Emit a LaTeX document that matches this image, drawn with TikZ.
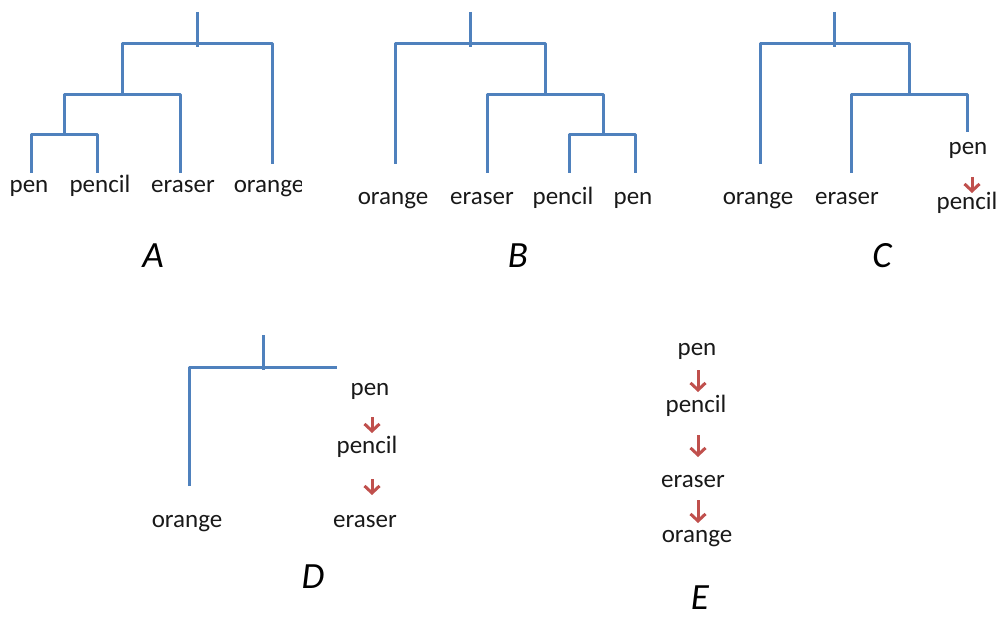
\documentclass[tikz,border=0pt]{standalone}
\usepackage{fontspec}
\setmainfont{Carlito}
\usetikzlibrary{arrows.meta,calc}
\definecolor{treeblue}{HTML}{4F81BD}
\definecolor{arrred}{HTML}{C0504D}
\tikzset{
  tree/.style={draw=treeblue, line width=3pt, line join=round},
  word/.style={inner sep=0pt, anchor=base, font=\fontsize{25}{30}\selectfont, text=black!90},
  panel/.style={inner sep=0pt, anchor=base, font=\fontsize{37}{40}\selectfont\itshape},
  redarrow/.style={draw=arrred, line width=3pt, -{Straight Barb[length=7pt,width=15pt,line width=3pt]}}
}
\begin{document}
\begin{tikzpicture}[x=1pt,y=-1pt]
\useasboundingbox (0,0) rectangle (1003,617);
% ---------- A ----------
\draw[tree] (31,173) -- (31,135) -- (97,135) -- (97,173);
\draw[tree] (64,135) -- (64,95) -- (180,95) -- (180,173);
\draw[tree] (122,95) -- (122,44) -- (272,44) -- (272,164);
\draw[tree] (197,12) -- (197,47);
\node[word] (apen) at (29,193) {pen};
\node[word] (apencil) at (100,193) {pencil};
\node[word] (aeraser) at (183,193) {eraser};
\begin{scope}
  \clip (0,0) rectangle (301,617);
  \node[word] (aorange) at (269,193) {orange};
\end{scope}
\node[panel] (la) at (153,268) {A};
% ---------- B ----------
\draw[tree] (569,173) -- (569,135) -- (635,135) -- (635,173);
\draw[tree] (603,135) -- (603,95) -- (487,95) -- (487,173);
\draw[tree] (545,95) -- (545,44) -- (395,44) -- (395,164);
\draw[tree] (470,12) -- (470,47);
\node[word] (borange) at (393,205) {orange};
\node[word] (beraser) at (482,205) {eraser};
\node[word] (bpencil) at (563,205) {pencil};
\node[word] (bpen) at (633,205) {pen};
\node[panel] (lb) at (518,268) {B};
% ---------- C ----------
\draw[tree] (967,132) -- (967,95) -- (851,95) -- (851,173);
\draw[tree] (909,95) -- (909,44) -- (760,44) -- (760,164);
\draw[tree] (834,12) -- (834,47);
\node[word] (corange) at (758,205) {orange};
\node[word] (ceraser) at (847,205) {eraser};
\node[word] (cpen) at (968,155) {pen};
\node[word] (cpencil) at (967,210) {pencil};
\draw[redarrow] ($(cpen.base)+(4,22)$) -- ($(cpencil.base)+(5,-17)$);
\node[panel] (lc) at (882,268) {C};
% ---------- D ----------
\draw[tree] (189,486) -- (189,367) -- (337,367);
\draw[tree] (263,335) -- (263,370);
\node[word] (dorange) at (187,527) {orange};
\node[word] (dpen) at (370,395) {pen};
\node[word] (dpencil) at (367,453) {pencil};
\node[word] (deraser) at (365,527) {eraser};
\draw[redarrow] ($(dpen.base)+(2,22)$) -- ($(dpencil.base)+(5,-20)$);
\draw[redarrow] ($(dpencil.base)+(5,26)$) -- ($(deraser.base)+(7,-32)$);
\node[panel] (ld) at (313,588) {D};
% ---------- E ----------
\node[word] (epen) at (697,355) {pen};
\node[word] (epencil) at (696,412) {pencil};
\node[word] (eeraser) at (693,487) {eraser};
\node[word] (eorange) at (697,542) {orange};
\draw[redarrow] ($(epen.base)+(1,15)$) -- ($(epencil.base)+(2,-20)$);
\draw[redarrow] ($(epencil.base)+(2,23)$) -- ($(eeraser.base)+(5,-30)$);
\draw[redarrow] ($(eeraser.base)+(5,13)$) -- ($(eorange.base)+(1,-19)$);
\node[panel] (le) at (700,609) {E};
\end{tikzpicture}
\end{document}
